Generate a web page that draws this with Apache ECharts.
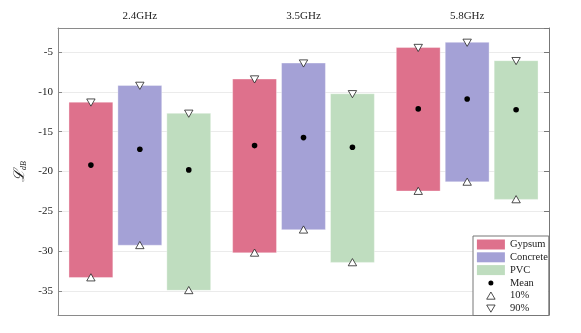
<!DOCTYPE html>
<html>
<head>
<meta charset="utf-8">
<script src="https://cdn.jsdelivr.net/npm/echarts@6/dist/echarts.min.js"></script>
<style>
  html, body { margin: 0; padding: 0; background: #fff; }
  #chart { width: 581px; height: 333px; }
</style>
</head>
<body>
<div id="chart"></div>
<script>
// frequency bands and materials
const bands = ['2.4GHz', '3.5GHz', '5.8GHz'];
const materials = ['Gypsum', 'Concrete', 'PVC'];

// values (dB), one entry per band
const gypsumP10 = [-33.3, -30.2, -22.45];
const gypsumP90 = [-11.3, -8.4, -4.45];
const gypsumMean = [-19.2, -16.75, -12.15];

const concreteP10 = [-29.25, -27.3, -21.3];
const concreteP90 = [-9.2, -6.4, -3.8];
const concreteMean = [-17.2, -15.75, -10.9];

const pvcP10 = [-34.9, -31.4, -23.5];
const pvcP90 = [-12.7, -10.25, -6.1];
const pvcMean = [-19.8, -16.95, -12.25];

const colors = ['#de718c', '#a4a1d6', '#bfddbf'];
const FONT = '"Liberation Serif", "Times New Roman", serif';

const p10 = [gypsumP10, concreteP10, pvcP10];
const p90 = [gypsumP90, concreteP90, pvcP90];
const means = [gypsumMean, concreteMean, pvcMean];

// bar width and offset step as a share of the category band
const BAR_W = 0.268;
const STEP = 0.299;

function xCenter(api, cat, k) {
    const band = api.size([1, 0])[0];
    return api.coord([cat, 0])[0] + (k - 1) * band * STEP;
}

function barItem(params, api) {
    const cat = api.value(0);
    const k = api.value(3);
    const band = api.size([1, 0])[0];
    const w = band * BAR_W;
    const cx = xCenter(api, cat, k);
    const yTop = api.coord([cat, api.value(2)])[1];
    const yBot = api.coord([cat, api.value(1)])[1];
    return {
        type: 'rect',
        shape: { x: cx - w / 2, y: yTop, width: w, height: yBot - yTop },
        style: Object.assign(api.style(), { stroke: 'rgba(255,255,255,0.35)', lineWidth: 1 })
    };
}

function markerItem(kind) {
    return function (params, api) {
        const cat = api.value(0);
        const k = api.value(2);
        const x = xCenter(api, cat, k);
        const y = api.coord([cat, api.value(1)])[1];
        if (kind === 'mean') {
            return { type: 'circle', shape: { cx: x, cy: y, r: 2.8 }, style: { fill: '#000' } };
        }
        const pts = kind === 'up'
            ? [[x, y - 3.8], [x - 4.2, y + 3.4], [x + 4.2, y + 3.4]]
            : [[x - 4.2, y - 3.2], [x + 4.2, y - 3.2], [x, y + 4]];
        return {
            type: 'polygon',
            shape: { points: pts },
            style: { fill: '#fff', stroke: '#222', lineWidth: 0.8 }
        };
    };
}

const barSeries = materials.map((name, k) => ({
    name: name,
    type: 'custom',
    renderItem: barItem,
    itemStyle: { color: colors[k] },
    encode: { x: 0, y: [1, 2] },
    data: bands.map((b, i) => [i, p10[k][i], p90[k][i], k]),
    z: 2
}));

function markerData(arr) {
    const out = [];
    arr.forEach((vals, k) => vals.forEach((v, i) => out.push([i, v, k])));
    return out;
}

const markerSeries = [
    { name: 'Mean', kind: 'mean', data: markerData(means), style: { color: '#000' } },
    { name: '10%', kind: 'up', data: markerData(p10), style: { color: '#fff', borderColor: '#222', borderWidth: 0.8 } },
    { name: '90%', kind: 'down', data: markerData(p90), style: { color: '#fff', borderColor: '#222', borderWidth: 0.8 } }
].map(m => ({
    name: m.name,
    type: 'custom',
    renderItem: markerItem(m.kind),
    itemStyle: m.style,
    encode: { x: 0, y: 1 },
    data: m.data,
    z: 3
}));

// legend icons drawn inside a 28x10 box so the symbols keep their size
const ICON_BOX = 'M0,0M28,10';
const legendIcons = {
    'Mean': 'path://' + ICON_BOX + 'M16.5,5A2.5,2.5,0,1,1,11.5,5A2.5,2.5,0,1,1,16.5,5Z',
    '10%': 'path://' + ICON_BOX + 'M14,1.3L18.2,8.5L9.8,8.5Z',
    '90%': 'path://' + ICON_BOX + 'M9.8,1.5L18.2,1.5L14,8.7Z'
};

const axisGray = '#8a8a8a';
const textStyle = { fontFamily: FONT, fontSize: 11, color: '#222' };

const chart = echarts.init(document.getElementById('chart'));
chart.setOption({
    animation: false,
    grid: { left: 58, right: 32, top: 28, bottom: 18 },
    xAxis: [{
        type: 'category',
        data: bands,
        position: 'top',
        axisLine: { lineStyle: { color: axisGray } },
        axisTick: { inside: true, alignWithLabel: true, length: 5, lineStyle: { color: '#555' } },
        axisLabel: Object.assign({ margin: 6 }, textStyle),
        splitLine: { show: false }
    }, {
        type: 'category',
        data: bands,
        position: 'bottom',
        axisLine: { lineStyle: { color: axisGray } },
        axisTick: { inside: true, alignWithLabel: true, length: 5, lineStyle: { color: '#555' } },
        axisLabel: { show: false },
        splitLine: { show: false }
    }],
    yAxis: [{
        type: 'value',
        min: -38,
        max: -2,
        splitNumber: 7,
        name: '{l|ℒ}{s|dB}',
        nameLocation: 'middle',
        nameGap: 27,
        nameTextStyle: {
            rich: {
                l: { fontFamily: '"DejaVu Serif", serif', fontStyle: 'italic', fontSize: 15, color: '#222' },
                s: { fontFamily: FONT, fontStyle: 'italic', fontSize: 8, color: '#222', verticalAlign: 'bottom', padding: [6, 0, 0, 0] }
            }
        },
        axisLine: { show: true, lineStyle: { color: axisGray } },
        axisTick: { show: true, inside: true, length: 4, lineStyle: { color: axisGray } },
        axisLabel: Object.assign({ margin: 5, showMinLabel: false, showMaxLabel: false }, textStyle),
        splitLine: { lineStyle: { color: '#ebebeb', width: 1 } }
    }, {
        type: 'value',
        min: -38,
        max: -2,
        splitNumber: 7,
        position: 'right',
        axisLine: { show: true, lineStyle: { color: '#777' } },
        axisTick: { show: true, inside: true, length: 5, lineStyle: { color: '#777' } },
        axisLabel: { show: false },
        splitLine: { show: false }
    }],
    legend: {
        data: materials.map(n => ({ name: n, icon: 'rect' }))
            .concat(['Mean', '10%', '90%'].map(n => ({
                name: n,
                icon: legendIcons[n],
                itemStyle: { borderWidth: 0.8 }
            }))),
        orient: 'vertical',
        left: 473,
        top: 236,
        padding: [3, 1, 1.5, 3.5],
        itemWidth: 28,
        itemHeight: 10,
        itemGap: 1.8,
        borderColor: '#777',
        borderWidth: 1,
        borderRadius: 0,
        backgroundColor: '#fff',
        selectedMode: false,
        textStyle: { fontFamily: FONT, fontSize: 10.5, color: '#222', lineHeight: 10 }
    },
    series: barSeries.concat(markerSeries)
});
</script>
</body>
</html>
